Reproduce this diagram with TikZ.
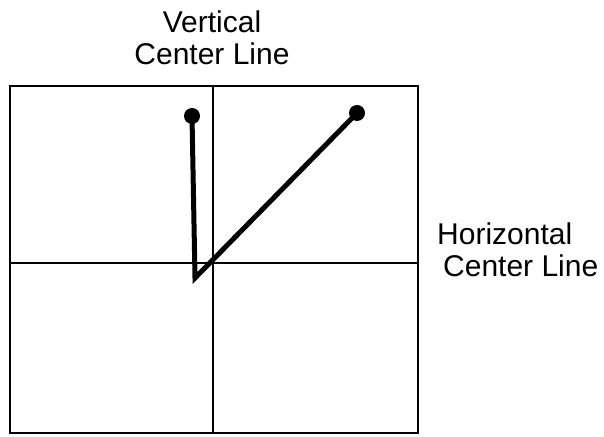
\documentclass[tikz,border=0pt]{standalone}
\usepackage{fontspec}
\setmainfont{Liberation Sans}
\usetikzlibrary{positioning}

\begin{document}
\begin{tikzpicture}[x=1pt, y=1pt,
        screen/.style={draw=black, line width=2.2pt, line join=miter},
        centerline/.style={draw=black, line width=1.3pt},
        trace/.style={draw=black, line width=5pt, line join=miter},
        spot/.style={circle, fill=black, inner sep=0pt, minimum size=16pt},
        tag/.style={font=\fontsize{30}{32}\selectfont, inner sep=0pt}
    ]
        \useasboundingbox (0,0) rectangle (604,436);

        % Screen and center lines
        \coordinate (sw) at (10,3);
        \coordinate (ne) at (418,350);
        \draw[screen] (sw) rectangle (ne);
        \coordinate (vtop) at (213,350);
        \coordinate (vbot) at (213,3);
        \coordinate (hleft) at (10,173);
        \coordinate (hright) at (418,173);
        \draw[centerline] (vtop) -- (vbot);
        \draw[centerline] (hleft) -- (hright);

        % Trace
        \node[spot] (dotleft) at (192,320) {};
        \node[spot] (dotright) at (357,323) {};
        \coordinate (vertex) at (195,158);
        \draw[trace] (dotleft.center) -- (vertex) -- (dotright.center);

        % Labels
        \node[tag, align=center, anchor=north] (vlabel) at (212,425) {Vertical\\Center Line};
        \node[tag, align=left, anchor=north west] (hlabel) at (437,213) {Horizontal\\\hspace{6pt}Center Line};

    \end{tikzpicture}
\end{document}
